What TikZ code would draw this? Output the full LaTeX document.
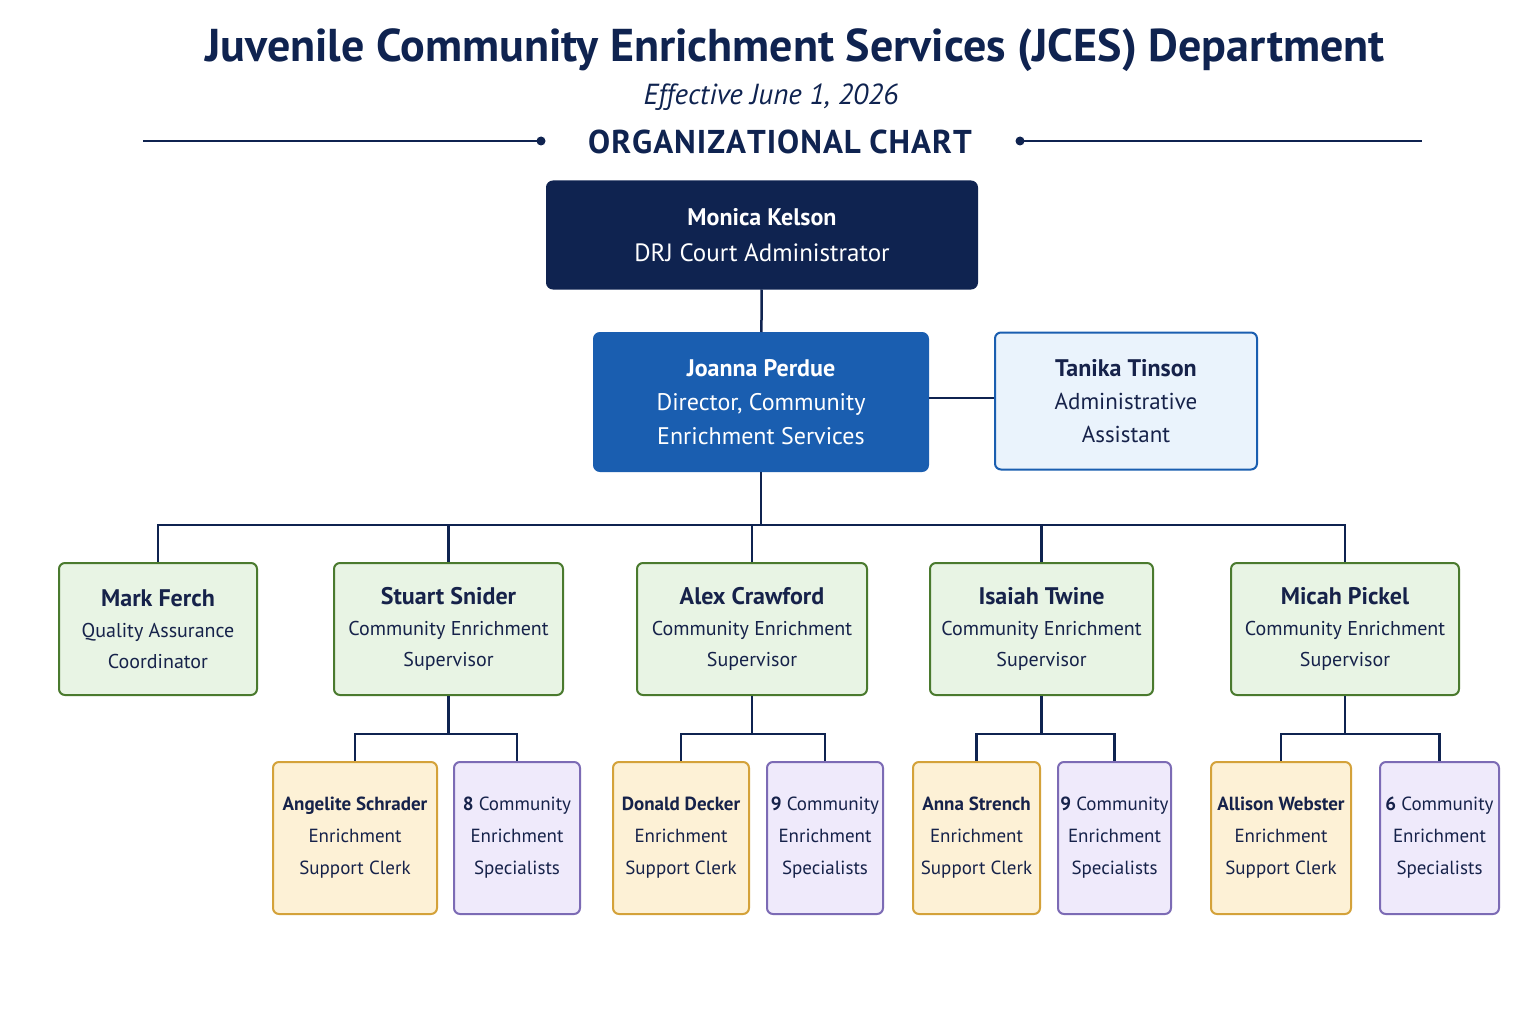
\documentclass[tikz,border=0pt]{standalone}
\usepackage{fontspec}
\setmainfont{PT Sans}
\usetikzlibrary{positioning}
\definecolor{navy}{HTML}{0F2350}
\definecolor{ink}{HTML}{16224A}
\definecolor{blue}{HTML}{1A5EB0}
\definecolor{paleblue}{HTML}{EAF3FC}
\definecolor{green}{HTML}{4A7A2E}
\definecolor{palegreen}{HTML}{E8F4E4}
\definecolor{gold}{HTML}{D4A23A}
\definecolor{paleyellow}{HTML}{FDF1D6}
\definecolor{purple}{HTML}{7C6BB5}
\definecolor{palepurple}{HTML}{EFEAFB}
\newcommand{\nm}[1]{{\bfseries\fontsize{24}{32}\selectfont #1}}
\tikzset{
  box/.style = {draw, rounded corners=6pt, line width=2pt, align=center, inner sep=0pt, text=ink},
  top/.style = {box, fill=navy, draw=navy, text=white, font=\fontsize{25}{36}\selectfont},
  dir/.style = {box, fill=blue, draw=blue, text=white, font=\fontsize{24}{34}\selectfont},
  assist/.style = {box, fill=paleblue, draw=blue, font=\fontsize{23}{33}\selectfont},
  sup/.style = {box, fill=palegreen, draw=green, minimum height=132pt, font=\fontsize{20}{31}\selectfont},
  clerk/.style = {box, fill=paleyellow, draw=gold, minimum height=152pt, font=\fontsize{19}{32}\selectfont},
  spec/.style = {box, fill=palepurple, draw=purple, minimum height=152pt, font=\fontsize{19}{32}\selectfont},
  link/.style = {draw=navy, line width=2.5pt},
}
\begin{document}
\begin{tikzpicture}[x=1pt, y=-1pt]
  \useasboundingbox[fill=white] (0,0) rectangle (1536,1024);

  % titles
  \node[text=navy, font=\bfseries\fontsize{46}{50}\selectfont] (title) at (795,50) {Juvenile Community Enrichment Services (JCES) Department};
  \node[text=navy, font=\itshape\fontsize{29}{32}\selectfont] (date) at (771,97) {Effective June 1, 2026};
  \node[text=navy, font=\bfseries\fontsize{33}{36}\selectfont] (chart) at (780,142) {O\kern1ptR\kern1ptG\kern1ptA\kern1ptN\kern1ptI\kern1ptZ\kern1ptA\kern1ptT\kern1ptI\kern1ptO\kern1ptN\kern1ptA\kern1ptL\ C\kern1ptH\kern1ptA\kern1ptR\kern1ptT};
  \draw[navy, line width=2pt] (143,141) -- (541,141);
  \draw[navy, line width=2pt] (1020,141) -- (1422,141);
  \fill[navy] (541,141) circle (4.5pt) (1020,141) circle (4.5pt);

  % top levels
  \node[top, minimum width=430pt, minimum height=107pt] (admin) at (762,235) {\nm{Monica Kelson}\\DRJ Court Administrator};
  \node[dir, minimum width=334pt, minimum height=138pt] (director) at (761,402) {\nm{Joanna Perdue}\\Director, Community\\Enrichment Services};
  \node[assist, minimum width=262pt, minimum height=137pt] (assistant) at (1126,401) {\nm{Tanika Tinson}\\Administrative\\Assistant};

  % supervisors
  \node[sup, minimum width=198pt] (qa) at (158,629) {\nm{Mark Ferch}\\Quality Assurance\\Coordinator};
  \node[sup, minimum width=229pt] (snider) at (448.5,629) {\nm{Stuart Snider}\\Community Enrichment\\Supervisor};
  \node[sup, minimum width=230pt] (crawford) at (752,629) {\nm{Alex Crawford}\\Community Enrichment\\Supervisor};
  \node[sup, minimum width=223pt] (twine) at (1041.5,629) {\nm{Isaiah Twine}\\Community Enrichment\\Supervisor};
  \node[sup, minimum width=228pt] (pickel) at (1345,629) {\nm{Micah Pickel}\\Community Enrichment\\Supervisor};

  % teams
  \node[clerk, minimum width=164pt] (schrader) at (355,838) {\textbf{Angelite Schrader}\\Enrichment\\Support Clerk};
  \node[spec, minimum width=126pt] (team1) at (517,838) {\textbf{8} Community\\Enrichment\\Specialists};
  \node[clerk, minimum width=136pt] (decker) at (681,838) {\textbf{Donald Decker}\\Enrichment\\Support Clerk};
  \node[spec, minimum width=116pt] (team2) at (825,838) {\textbf{9} Community\\Enrichment\\Specialists};
  \node[clerk, minimum width=127pt] (strench) at (976.5,838) {\textbf{Anna Strench}\\Enrichment\\Support Clerk};
  \node[spec, minimum width=113pt] (team3) at (1114.5,838) {\textbf{9} Community\\Enrichment\\Specialists};
  \node[clerk, minimum width=140pt] (webster) at (1281,838) {\textbf{Allison Webster}\\Enrichment\\Support Clerk};
  \node[spec, minimum width=119pt] (team4) at (1439.5,838) {\textbf{6} Community\\Enrichment\\Specialists};

  % connectors
  \draw[link] (admin) -- (director);
  \draw[link] (director.east |- 0,398) -- (assistant.west |- 0,398);
  \coordinate (bus) at (761,525);
  \draw[link] (director) -- (bus);
  \foreach \n in {qa, snider, crawford, twine, pickel}
    \draw[link] (bus) -| (\n.north);
  \foreach \s/\a/\b in {snider/schrader/team1, crawford/decker/team2, twine/strench/team3, pickel/webster/team4}{
    \coordinate (\s-split) at ([yshift=-38pt]\s.south);
    \draw[link] (\s.south) -- (\s-split);
    \draw[link] (\s-split) -| (\a.north);
    \draw[link] (\s-split) -| (\b.north);
  }
\end{tikzpicture}
\end{document}
